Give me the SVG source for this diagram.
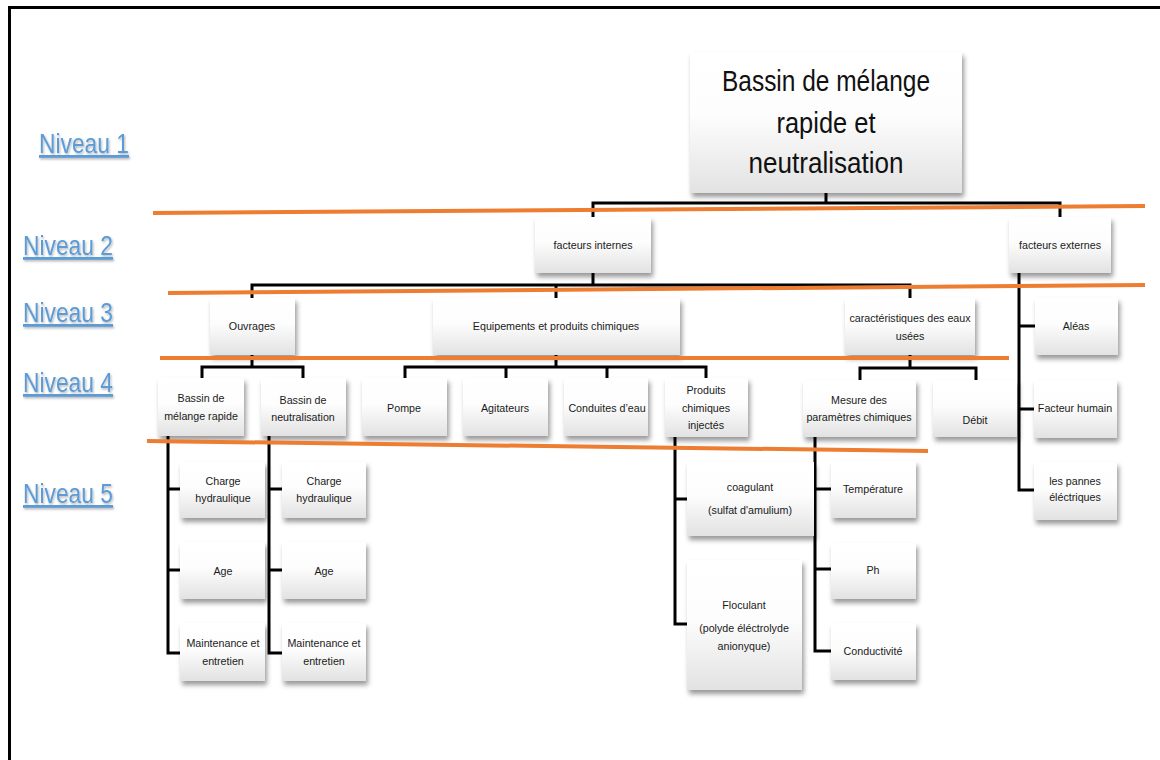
<svg xmlns="http://www.w3.org/2000/svg" width="1160" height="760" viewBox="0 0 1160 760">
<defs>
<linearGradient id="bg" x1="0" y1="0" x2="0" y2="1">
<stop offset="0" stop-color="#ffffff"/>
<stop offset="0.45" stop-color="#fdfdfd"/>
<stop offset="1" stop-color="#e2e2e2"/>
</linearGradient>
<filter id="sh" x="-20%" y="-20%" width="150%" height="160%">
<feDropShadow dx="2" dy="4" stdDeviation="2.5" flood-color="#000" flood-opacity="0.4"/>
</filter>
<filter id="tsh" x="-10%" y="-20%" width="130%" height="160%">
<feDropShadow dx="1" dy="1.5" stdDeviation="1" flood-color="#000" flood-opacity="0.3"/>
</filter>
</defs>
<style>
.box{fill:url(#bg);filter:url(#sh);}
.t{font-family:"Liberation Sans",Arial,sans-serif;font-size:10.7px;fill:#1a1a1a;text-anchor:middle;}
.big{font-family:"Liberation Sans",Arial,sans-serif;font-size:29px;fill:#111;text-anchor:middle;}
.lvl{font-family:"Liberation Sans",Arial,sans-serif;font-size:28px;fill:#5b9bd5;text-decoration:underline;filter:url(#tsh);}
.c{fill:none;stroke:#000;stroke-width:3;stroke-linecap:square;}
.o{fill:none;stroke:#ed7d31;stroke-width:4;}
</style>
<rect x="0" y="0" width="1160" height="760" fill="#fff"/>
<path d="M9.5,760 V7.5 H1160" fill="none" stroke="#000" stroke-width="3"/>

<g id="levels">
<text class="lvl" x="39" y="153" textLength="90" lengthAdjust="spacingAndGlyphs">Niveau 1</text>
<text class="lvl" x="23" y="255" textLength="90" lengthAdjust="spacingAndGlyphs">Niveau 2</text>
<text class="lvl" x="23" y="322" textLength="90" lengthAdjust="spacingAndGlyphs">Niveau 3</text>
<text class="lvl" x="23" y="392" textLength="90" lengthAdjust="spacingAndGlyphs">Niveau 4</text>
<text class="lvl" x="23" y="503" textLength="90" lengthAdjust="spacingAndGlyphs">Niveau 5</text>
</g>

<g id="connectors">
<path class="c" d="M826,193 V203 M593,203 H1060 M593,203 V217 M1060,203 V217"/>
<path class="c" d="M593,273 V285 M252,285 H910 M252,285 V298 M556,285 V298 M910,285 V298"/>
<path class="c" d="M1019,273 V490 M1019,326 H1035 M1019,409 H1034 M1019,490 H1034"/>
<path class="c" d="M252,355 V367 M202,367 H303 M202,367 V378 M303,367 V378"/>
<path class="c" d="M556,355 V367 M405,367 H706 M405,367 V378 M506,367 V378 M607,367 V378 M706,367 V378"/>
<path class="c" d="M910,355 V368 M860,368 H976 M860,368 V380 M976,368 V380"/>
<path class="c" d="M168,436 V653 M168,489 H180 M168,570 H180 M168,653 H180"/>
<path class="c" d="M269,436 V653 M269,489 H282 M269,570 H282 M269,653 H282"/>
<path class="c" d="M675,437 V624 M675,499 H687 M675,624 H687"/>
<path class="c" d="M815,437 V651 M815,489 H831 M815,569 H831 M815,651 H831"/>
</g>

<g id="n-root"><rect class="box" x="690" y="52" width="272" height="141"/>
<text class="big" x="826" y="91" textLength="208" lengthAdjust="spacingAndGlyphs">Bassin de mélange</text>
<text class="big" x="826" y="133" textLength="99" lengthAdjust="spacingAndGlyphs">rapide et</text>
<text class="big" x="826" y="173" textLength="155" lengthAdjust="spacingAndGlyphs">neutralisation</text></g>

<g id="n-fi"><rect class="box" x="535" y="217" width="116" height="56"/><text class="t" x="593" y="249">facteurs internes</text></g>
<g id="n-fe"><rect class="box" x="1009" y="217" width="102" height="56"/><text class="t" x="1060" y="249">facteurs externes</text></g>

<g id="n-ouv"><rect class="box" x="210" y="298" width="85" height="57"/><text class="t" x="252" y="330">Ouvrages</text></g>
<g id="n-equ"><rect class="box" x="433" y="298" width="247" height="57"/><text class="t" x="556" y="330">Equipements et produits chimiques</text></g>
<g id="n-car"><rect class="box" x="845" y="298" width="130" height="57"/><text class="t" x="910" y="322">caractéristiques des eaux</text><text class="t" x="910" y="340">usées</text></g>
<g id="n-ale"><rect class="box" x="1035" y="298" width="83" height="57"/><text class="t" x="1076" y="330">Aléas</text></g>

<g id="n-bmr"><rect class="box" x="158" y="378" width="86" height="58"/><text class="t" x="201" y="402">Bassin de</text><text class="t" x="201" y="420">mélange rapide</text></g>
<g id="n-bn"><rect class="box" x="261" y="378" width="85" height="58"/><text class="t" x="303" y="404">Bassin de</text><text class="t" x="303" y="421">neutralisation</text></g>
<g id="n-pom"><rect class="box" x="362" y="378" width="85" height="58"/><text class="t" x="404" y="412">Pompe</text></g>
<g id="n-agi"><rect class="box" x="463" y="378" width="85" height="58"/><text class="t" x="505" y="412">Agitateurs</text></g>
<g id="n-con"><rect class="box" x="564" y="378" width="84" height="58"/><text class="t" x="607" y="412">Conduites d’eau</text></g>
<g id="n-pro"><rect class="box" x="665" y="378" width="83" height="59"/><text class="t" x="706" y="394">Produits</text><text class="t" x="706" y="412">chimiques</text><text class="t" x="706" y="429">injectés</text></g>
<g id="n-mes"><rect class="box" x="803" y="380" width="113" height="57"/><text class="t" x="859" y="404">Mesure des</text><text class="t" x="859" y="421">paramètres chimiques</text></g>
<g id="n-deb"><rect class="box" x="933" y="380" width="84" height="57"/><text class="t" x="975" y="424">Débit</text></g>
<g id="n-fh"><rect class="box" x="1034" y="380" width="83" height="58"/><text class="t" x="1075" y="412">Facteur humain</text></g>
<g id="n-lp"><rect class="box" x="1034" y="462" width="83" height="58"/><text class="t" x="1075" y="485">les pannes</text><text class="t" x="1075" y="501">éléctriques</text></g>

<g id="n-ch1"><rect class="box" x="180" y="462" width="85" height="56"/><text class="t" x="223" y="485">Charge</text><text class="t" x="223" y="502">hydraulique</text></g>
<g id="n-age1"><rect class="box" x="180" y="542" width="85" height="57"/><text class="t" x="223" y="575">Age</text></g>
<g id="n-mai1"><rect class="box" x="180" y="623" width="85" height="58"/><text class="t" x="223" y="647">Maintenance et</text><text class="t" x="223" y="665">entretien</text></g>
<g id="n-ch2"><rect class="box" x="282" y="462" width="84" height="56"/><text class="t" x="324" y="485">Charge</text><text class="t" x="324" y="502">hydraulique</text></g>
<g id="n-age2"><rect class="box" x="282" y="542" width="84" height="57"/><text class="t" x="324" y="575">Age</text></g>
<g id="n-mai2"><rect class="box" x="282" y="623" width="84" height="58"/><text class="t" x="324" y="647">Maintenance et</text><text class="t" x="324" y="665">entretien</text></g>

<g id="n-coa"><rect class="box" x="687" y="462" width="127" height="74"/><text class="t" x="750" y="491">coagulant</text><text class="t" x="750" y="514">(sulfat d'amulium)</text></g>
<g id="n-flo"><rect class="box" x="687" y="560" width="115" height="130"/><text class="t" x="744" y="609">Floculant</text><text class="t" x="744" y="632">(polyde éléctrolyde</text><text class="t" x="744" y="650">anionyque)</text></g>
<g id="n-tem"><rect class="box" x="831" y="461" width="85" height="57"/><text class="t" x="873" y="493">Température</text></g>
<g id="n-ph"><rect class="box" x="831" y="543" width="85" height="56"/><text class="t" x="873" y="574">Ph</text></g>
<g id="n-cond"><rect class="box" x="831" y="623" width="85" height="57"/><text class="t" x="873" y="655">Conductivité</text></g>

<g id="separators">
<line class="o" x1="153" y1="213" x2="1145" y2="206"/>
<line class="o" x1="168" y1="293" x2="1145" y2="285"/>
<line class="o" x1="160" y1="358" x2="1009" y2="358"/>
<line class="o" x1="147" y1="441" x2="928" y2="451"/>
</g>
</svg>
